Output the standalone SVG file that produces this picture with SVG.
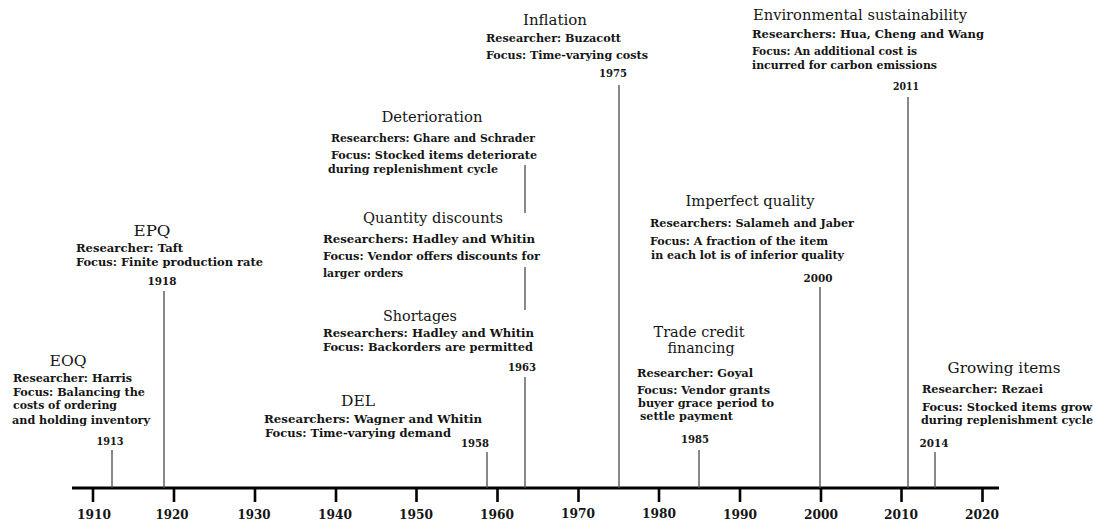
<svg xmlns="http://www.w3.org/2000/svg" width="1094" height="523" viewBox="0 0 1094 523">
<style>
text{font-family:"DejaVu Serif","Liberation Serif",serif;fill:#151515}
.t{font-size:15px;text-anchor:middle}
.b{font-size:11px;font-weight:bold}
.y{font-size:11px;font-weight:bold;text-anchor:middle}
.ay{font-size:13px;font-weight:bold;text-anchor:middle}
.stem{stroke:#4a4a4a;stroke-width:1.3;fill:none}
.tick{stroke:#000;stroke-width:2.6}
</style>
<rect width="1094" height="523" fill="#fff"/>
<g id="axis">
<line x1="72" y1="488" x2="999" y2="488" stroke="#000" stroke-width="3.2"/>
<line class="tick" x1="93" y1="488" x2="93" y2="502"/>
<line class="tick" x1="174" y1="488" x2="174" y2="502"/>
<line class="tick" x1="255" y1="488" x2="255" y2="502"/>
<line class="tick" x1="336" y1="488" x2="336" y2="502"/>
<line class="tick" x1="416.5" y1="488" x2="416.5" y2="502"/>
<line class="tick" x1="497.5" y1="488" x2="497.5" y2="502"/>
<line class="tick" x1="578.5" y1="488" x2="578.5" y2="502"/>
<line class="tick" x1="659" y1="488" x2="659" y2="502"/>
<line class="tick" x1="740" y1="488" x2="740" y2="502"/>
<line class="tick" x1="821" y1="488" x2="821" y2="502"/>
<line class="tick" x1="901.5" y1="488" x2="901.5" y2="502"/>
<line class="tick" x1="982.5" y1="488" x2="982.5" y2="502"/>
<text class="ay" x="94" y="519" textLength="34" lengthAdjust="spacingAndGlyphs">1910</text>
<text class="ay" x="172" y="519" textLength="33" lengthAdjust="spacingAndGlyphs">1920</text>
<text class="ay" x="254" y="519" textLength="33" lengthAdjust="spacingAndGlyphs">1930</text>
<text class="ay" x="335" y="519" textLength="34" lengthAdjust="spacingAndGlyphs">1940</text>
<text class="ay" x="416" y="519" textLength="34" lengthAdjust="spacingAndGlyphs">1950</text>
<text class="ay" x="497" y="519" textLength="34" lengthAdjust="spacingAndGlyphs">1960</text>
<text class="ay" x="578" y="518" textLength="34" lengthAdjust="spacingAndGlyphs">1970</text>
<text class="ay" x="659" y="518" textLength="34" lengthAdjust="spacingAndGlyphs">1980</text>
<text class="ay" x="740" y="519" textLength="34" lengthAdjust="spacingAndGlyphs">1990</text>
<text class="ay" x="821" y="519" textLength="34" lengthAdjust="spacingAndGlyphs">2000</text>
<text class="ay" x="901" y="519" textLength="34" lengthAdjust="spacingAndGlyphs">2010</text>
<text class="ay" x="982" y="519" textLength="34" lengthAdjust="spacingAndGlyphs">2020</text>
</g>
<g id="connectors">
<line class="stem" x1="112" y1="450" x2="112" y2="488"/>
<line class="stem" x1="164" y1="291" x2="164" y2="488"/>
<line class="stem" x1="487" y1="452" x2="487" y2="488"/>
<line class="stem" x1="525" y1="165" x2="525" y2="213"/>
<line class="stem" x1="525" y1="267" x2="525" y2="310"/>
<line class="stem" x1="525" y1="377" x2="525" y2="488"/>
<line class="stem" x1="619" y1="85" x2="619" y2="488"/>
<line class="stem" x1="699" y1="450" x2="699" y2="488"/>
<line class="stem" x1="820" y1="287" x2="820" y2="488"/>
<line class="stem" x1="908" y1="97" x2="908" y2="488"/>
<line class="stem" x1="935" y1="452" x2="935" y2="488"/>
</g>
<g id="eoq">
<text class="t" x="68" y="366" textLength="37" lengthAdjust="spacingAndGlyphs">EOQ</text>
<text class="b" x="13" y="382" textLength="119" lengthAdjust="spacingAndGlyphs">Researcher: Harris</text>
<text class="b" x="13" y="396" textLength="132" lengthAdjust="spacingAndGlyphs">Focus: Balancing the</text>
<text class="b" x="13" y="409" textLength="104" lengthAdjust="spacingAndGlyphs">costs of ordering</text>
<text class="b" x="12" y="424" textLength="138" lengthAdjust="spacingAndGlyphs">and holding inventory</text>
<text class="y" x="110" y="445" textLength="27" lengthAdjust="spacingAndGlyphs">1913</text>
</g>
<g id="epq">
<text class="t" x="152" y="236" textLength="37" lengthAdjust="spacingAndGlyphs">EPQ</text>
<text class="b" x="76" y="252" textLength="107" lengthAdjust="spacingAndGlyphs">Researcher:  Taft</text>
<text class="b" x="76" y="266" textLength="187" lengthAdjust="spacingAndGlyphs">Focus:  Finite production rate</text>
<text class="y" x="162" y="285" textLength="29" lengthAdjust="spacingAndGlyphs">1918</text>
</g>
<g id="del">
<text class="t" x="358" y="406" textLength="34" lengthAdjust="spacingAndGlyphs">DEL</text>
<text class="b" x="264" y="423" textLength="218" lengthAdjust="spacingAndGlyphs">Researchers:  Wagner and Whitin</text>
<text class="b" x="265" y="437" textLength="186" lengthAdjust="spacingAndGlyphs">Focus:  Time-varying demand</text>
<text class="y" x="475" y="447" textLength="28" lengthAdjust="spacingAndGlyphs">1958</text>
</g>
<g id="deterioration">
<text class="t" x="432" y="122" textLength="101" lengthAdjust="spacingAndGlyphs">Deterioration</text>
<text class="b" x="331" y="142" textLength="204" lengthAdjust="spacingAndGlyphs">Researchers:  Ghare and Schrader</text>
<text class="b" x="331" y="159" textLength="206" lengthAdjust="spacingAndGlyphs">Focus:  Stocked items deteriorate</text>
<text class="b" x="328" y="173" textLength="170" lengthAdjust="spacingAndGlyphs">during replenishment cycle</text>
</g>
<g id="quantity-discounts">
<text class="t" x="433" y="223" textLength="140" lengthAdjust="spacingAndGlyphs">Quantity discounts</text>
<text class="b" x="323" y="243" textLength="212" lengthAdjust="spacingAndGlyphs">Researchers:  Hadley and Whitin</text>
<text class="b" x="323" y="260" textLength="217" lengthAdjust="spacingAndGlyphs">Focus:  Vendor offers discounts for</text>
<text class="b" x="323" y="277" textLength="80" lengthAdjust="spacingAndGlyphs">larger orders</text>
</g>
<g id="shortages">
<text class="t" x="420" y="321" textLength="74" lengthAdjust="spacingAndGlyphs">Shortages</text>
<text class="b" x="323" y="337" textLength="211" lengthAdjust="spacingAndGlyphs">Researchers:  Hadley and Whitin</text>
<text class="b" x="323" y="351" textLength="210" lengthAdjust="spacingAndGlyphs">Focus:  Backorders are permitted</text>
<text class="y" x="522" y="371" textLength="28" lengthAdjust="spacingAndGlyphs">1963</text>
</g>
<g id="inflation">
<text class="t" x="555" y="25" textLength="64" lengthAdjust="spacingAndGlyphs">Inflation</text>
<text class="b" x="486" y="42" textLength="135" lengthAdjust="spacingAndGlyphs">Researcher:  Buzacott</text>
<text class="b" x="486" y="59" textLength="162" lengthAdjust="spacingAndGlyphs">Focus:  Time-varying costs</text>
<text class="y" x="613" y="77" textLength="28" lengthAdjust="spacingAndGlyphs">1975</text>
</g>
<g id="trade-credit">
<text class="t" x="699" y="337" textLength="91" lengthAdjust="spacingAndGlyphs">Trade credit</text>
<text class="t" x="701" y="353" textLength="67" lengthAdjust="spacingAndGlyphs">financing</text>
<text class="b" x="637" y="377" textLength="116" lengthAdjust="spacingAndGlyphs">Researcher:  Goyal</text>
<text class="b" x="637" y="394" textLength="133" lengthAdjust="spacingAndGlyphs">Focus:  Vendor grants</text>
<text class="b" x="638" y="407" textLength="136" lengthAdjust="spacingAndGlyphs">buyer  grace period to</text>
<text class="b" x="640" y="420" textLength="93" lengthAdjust="spacingAndGlyphs">settle payment</text>
<text class="y" x="695" y="443" textLength="28" lengthAdjust="spacingAndGlyphs">1985</text>
</g>
<g id="imperfect-quality">
<text class="t" x="750" y="206" textLength="129" lengthAdjust="spacingAndGlyphs">Imperfect quality</text>
<text class="b" x="650" y="227" textLength="204" lengthAdjust="spacingAndGlyphs">Researchers:  Salameh and Jaber</text>
<text class="b" x="650" y="245" textLength="178" lengthAdjust="spacingAndGlyphs">Focus:  A fraction of the item</text>
<text class="b" x="651" y="259" textLength="193" lengthAdjust="spacingAndGlyphs">in each lot is of inferior quality</text>
<text class="y" x="818" y="282" textLength="29" lengthAdjust="spacingAndGlyphs">2000</text>
</g>
<g id="environmental">
<text class="t" x="860" y="20" textLength="214" lengthAdjust="spacingAndGlyphs">Environmental sustainability</text>
<text class="b" x="752" y="38" textLength="232" lengthAdjust="spacingAndGlyphs">Researchers:  Hua, Cheng and Wang</text>
<text class="b" x="752" y="55" textLength="165" lengthAdjust="spacingAndGlyphs">Focus:  An additional cost is</text>
<text class="b" x="752" y="69" textLength="185" lengthAdjust="spacingAndGlyphs">incurred for carbon emissions</text>
<text class="y" x="906" y="90" textLength="26" lengthAdjust="spacingAndGlyphs">2011</text>
</g>
<g id="growing-items">
<text class="t" x="1004" y="373" textLength="113" lengthAdjust="spacingAndGlyphs">Growing  items</text>
<text class="b" x="922" y="393" textLength="121" lengthAdjust="spacingAndGlyphs">Researcher:  Rezaei</text>
<text class="b" x="922" y="411" textLength="170" lengthAdjust="spacingAndGlyphs">Focus:  Stocked items grow</text>
<text class="b" x="921" y="424" textLength="172" lengthAdjust="spacingAndGlyphs">during replenishment cycle</text>
<text class="y" x="934" y="447" textLength="29" lengthAdjust="spacingAndGlyphs">2014</text>
</g>
</svg>
